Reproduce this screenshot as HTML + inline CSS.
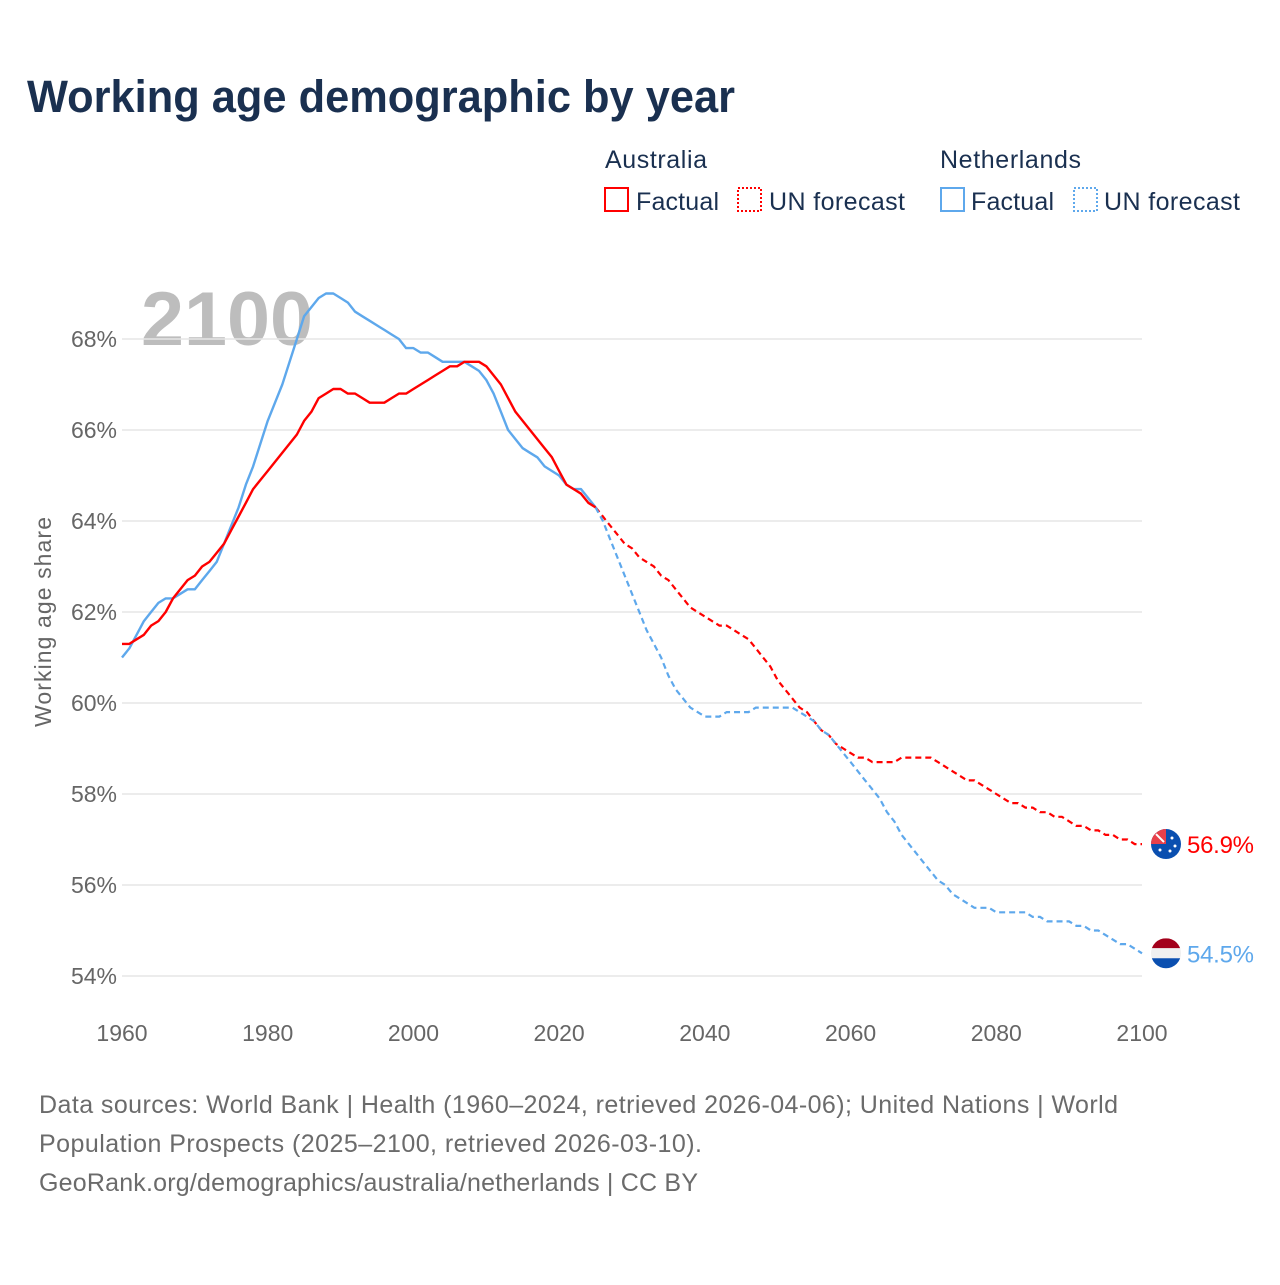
<!DOCTYPE html>
<html><head><meta charset="utf-8"><style>
html,body{margin:0;padding:0;background:#fff;}
body{width:1280px;height:1280px;overflow:hidden;font-family:"Liberation Sans",sans-serif;}
</style></head><body>
<svg id="chart" width="1280" height="1280" xmlns="http://www.w3.org/2000/svg" font-family="Liberation Sans, sans-serif">
<text x="27" y="112" font-size="45" font-weight="bold" fill="#1a3050" textLength="708" lengthAdjust="spacingAndGlyphs">Working age demographic by year</text>
<g font-size="25" fill="#1a3050">
<text x="605" y="168" textLength="102">Australia</text>
<text x="940" y="168" textLength="141">Netherlands</text>
<g><rect x="605" y="188" width="23" height="23" fill="none" stroke="#f00" stroke-width="2"/><text x="636" y="210" textLength="83">Factual</text></g>
<g><rect x="738" y="188" width="23" height="23" fill="none" stroke="#f00" stroke-width="2" stroke-dasharray="2,2"/><text x="769" y="210" textLength="136">UN forecast</text></g>
<g><rect x="941" y="188" width="23" height="23" fill="none" stroke="#5ea8ec" stroke-width="2"/><text x="971" y="210" textLength="83">Factual</text></g>
<g><rect x="1074" y="188" width="23" height="23" fill="none" stroke="#5ea8ec" stroke-width="2" stroke-dasharray="2,2"/><text x="1104" y="210" textLength="136">UN forecast</text></g>
</g>
<text x="141" y="345" font-size="76" font-weight="bold" fill="#bdbdbd" textLength="172" lengthAdjust="spacingAndGlyphs">2100</text>
<g id="grid"></g>
<g id="yticks" font-size="23" fill="#666"></g>
<g id="xticks" font-size="23" fill="#666"></g>
<text transform="translate(51,622) rotate(-90)" text-anchor="middle" font-size="23" fill="#666" textLength="210">Working age share</text>
<g id="series"></g>
<g id="ends"></g>
<g font-size="25" fill="#6b6b6b">
<text x="39" y="1113" textLength="1079">Data sources: World Bank | Health (1960–2024, retrieved 2026-04-06); United Nations | World</text>
<text x="39" y="1152" textLength="663">Population Prospects (2025–2100, retrieved 2026-03-10).</text>
<text x="39" y="1191" textLength="659">GeoRank.org/demographics/australia/netherlands | CC BY</text>
</g>
</svg>
<script>
const startYear = 1960;
const factualEnd = 2025;
const yTickValues = [54,56,58,60,62,64,66,68];
const xTickValues = [1960,1980,2000,2020,2040,2060,2080,2100];
const australia = [61.3,61.3,61.4,61.5,61.7,61.8,62.0,62.3,62.5,62.7,62.8,63.0,63.1,63.3,63.5,63.8,64.1,64.4,64.7,64.9,65.1,65.3,65.5,65.7,65.9,66.2,66.4,66.7,66.8,66.9,66.9,66.8,66.8,66.7,66.6,66.6,66.6,66.7,66.8,66.8,66.9,67.0,67.1,67.2,67.3,67.4,67.4,67.5,67.5,67.5,67.4,67.2,67.0,66.7,66.4,66.2,66.0,65.8,65.6,65.4,65.1,64.8,64.7,64.6,64.4,64.3,
64.1,63.9,63.7,63.5,63.4,63.2,63.1,63.0,62.8,62.7,62.5,62.3,62.1,62.0,61.9,61.8,61.7,61.7,61.6,61.5,61.4,61.2,61.0,60.8,60.5,60.3,60.1,59.9,59.8,59.6,59.4,59.3,59.1,59.0,58.9,58.8,58.8,58.7,58.7,58.7,58.7,58.8,58.8,58.8,58.8,58.8,58.7,58.6,58.5,58.4,58.3,58.3,58.2,58.1,58.0,57.9,57.8,57.8,57.7,57.7,57.6,57.6,57.5,57.5,57.4,57.3,57.3,57.2,57.2,57.1,57.1,57.0,57.0,56.9,56.9];
const netherlands = [61.0,61.2,61.5,61.8,62.0,62.2,62.3,62.3,62.4,62.5,62.5,62.7,62.9,63.1,63.5,63.9,64.3,64.8,65.2,65.7,66.2,66.6,67.0,67.5,68.0,68.5,68.7,68.9,69.0,69.0,68.9,68.8,68.6,68.5,68.4,68.3,68.2,68.1,68.0,67.8,67.8,67.7,67.7,67.6,67.5,67.5,67.5,67.5,67.4,67.3,67.1,66.8,66.4,66.0,65.8,65.6,65.5,65.4,65.2,65.1,65.0,64.8,64.7,64.7,64.5,64.3,
64.0,63.6,63.2,62.8,62.4,62.0,61.6,61.3,61.0,60.6,60.3,60.1,59.9,59.8,59.7,59.7,59.7,59.8,59.8,59.8,59.8,59.9,59.9,59.9,59.9,59.9,59.9,59.8,59.7,59.6,59.4,59.3,59.1,58.9,58.7,58.5,58.3,58.1,57.9,57.6,57.4,57.1,56.9,56.7,56.5,56.3,56.1,56.0,55.8,55.7,55.6,55.5,55.5,55.5,55.4,55.4,55.4,55.4,55.4,55.3,55.3,55.2,55.2,55.2,55.2,55.1,55.1,55.0,55.0,54.9,54.8,54.7,54.7,54.6,54.5];

const NS='http://www.w3.org/2000/svg';
const X0=122,X1=1142,Y68=339,Y54=976;
function xs(y){return X0+(y-1960)*(X1-X0)/140;}
function ys(v){return Y68+(68-v)*(Y54-Y68)/14;}
function mk(tag,attrs,parent){const e=document.createElementNS(NS,tag);for(const k in attrs)e.setAttribute(k,attrs[k]);parent.appendChild(e);return e;}
const grid=document.getElementById('grid'),yt=document.getElementById('yticks'),xt=document.getElementById('xticks');
yTickValues.forEach(v=>{
  const l=mk('line',{x1:X0,x2:X1,y1:ys(v),y2:ys(v),stroke:'#e6e6e6','stroke-width':1.5},grid);
  
  
  const t=mk('text',{x:117,y:ys(v)+8,'text-anchor':'end'},yt);t.textContent=v+'%';
  
  
});
xTickValues.forEach(y=>{
  const t=mk('text',{x:xs(y),y:1041,'text-anchor':'middle'},xt);t.textContent=y;
  
  
});
const ser=document.getElementById('series');
function path(arr,from,to){let d='';for(let i=from;i<=to;i++){const yr=startYear+i;d+=(i===from?'M':'L')+xs(yr).toFixed(1)+','+ys(arr[i]).toFixed(1);}return d;}
const fi=factualEnd-startYear;
[[australia,'#f00','au'],[netherlands,'#5ea8ec','nl']].forEach(([arr,c,n])=>{
  const f=mk('path',{d:path(arr,fi,arr.length-1),fill:'none',stroke:c,'stroke-width':2.2,'stroke-dasharray':'6,4'},ser);
  
  
});
[[netherlands,'#5ea8ec','nl'],[australia,'#f00','au']].forEach(([arr,c,n])=>{
  const p=mk('path',{d:path(arr,0,fi),fill:'none',stroke:c,'stroke-width':2.4,'stroke-linejoin':'round'},ser);
  
  
});
const ends=document.getElementById('ends');
const fx=1166;
const R=15;
// Australia flag
const ay=ys(australia[australia.length-1]);
const ag=mk('g',{},ends);


mk('circle',{cx:fx,cy:ay,r:R,fill:'#0a4fb0'},ag);
mk('path',{d:`M${fx-R},${ay} A${R},${R} 0 0 1 ${fx},${ay-R} L${fx},${ay} Z`,fill:'#e8404a'},ag);
mk('path',{d:`M${fx-10},${ay-10} L${fx-2},${ay-2}`,stroke:'#fff','stroke-width':2},ag);
[[6,-6],[9,2],[4,7],[-6,6]].forEach(([dx,dy])=>mk('circle',{cx:fx+dx,cy:ay+dy,r:1.5,fill:'#fff'},ag));
const at=mk('text',{x:1187,y:ay+9,'font-size':24,fill:'#f00',textLength:67},ends);at.textContent=australia[australia.length-1].toFixed(1)+'%';


// Netherlands flag
const ny=ys(netherlands[netherlands.length-1]);
const ng=mk('g',{},ends);


mk('clipPath',{id:'nlc'},ng);
mk('circle',{cx:fx,cy:ny,r:R},document.getElementById('nlc'));
mk('rect',{x:fx-R,y:ny-R,width:2*R,height:10,fill:'#a3001b','clip-path':'url(#nlc)'},ng);
mk('rect',{x:fx-R,y:ny-5,width:2*R,height:10,fill:'#f0f0f0','clip-path':'url(#nlc)'},ng);
mk('rect',{x:fx-R,y:ny+5,width:2*R,height:11,fill:'#0a4fb0','clip-path':'url(#nlc)'},ng);
const nt=mk('text',{x:1187,y:ny+9,'font-size':24,fill:'#5ea8ec',textLength:67},ends);nt.textContent=netherlands[netherlands.length-1].toFixed(1)+'%';


</script>
</body></html>
